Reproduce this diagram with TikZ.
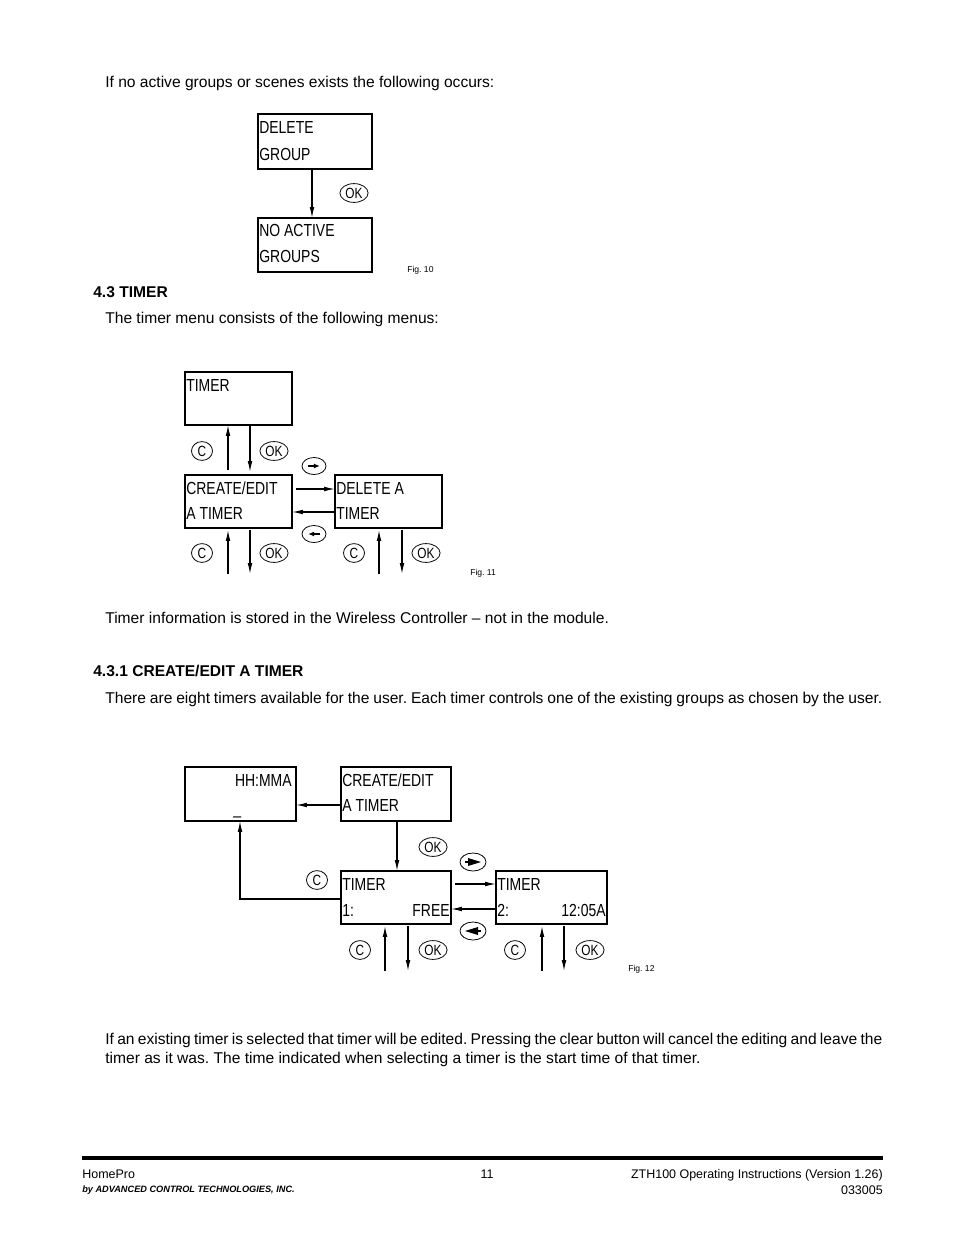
\documentclass[tikz,border=0pt]{standalone}
\usepackage{fontspec}
\setmainfont{Liberation Sans}
\newfontfamily\lcdfont[FakeStretch=0.8]{Liberation Sans}
\usetikzlibrary{shapes.geometric,arrows.meta,calc}
\newdimen\px \px=0.64151pt
\begin{document}
\frenchspacing
\begin{tikzpicture}[x=0.64151pt,y=-0.64151pt,
 lcdbox/.style={draw,line width=0.7pt,inner sep=0,outer sep=0},
 lcd/.style={font=\lcdfont\fontsize{11.2}{12}\selectfont,inner sep=0,anchor=base west},
 lcdr/.style={lcd,anchor=base east},
 btn/.style={draw,ellipse,line width=0.5pt,minimum width=21\px,minimum height=18\px,inner sep=0.9pt,font=\lcdfont\fontsize{9.5}{10}\selectfont},
 conn/.style={line width=0.7pt,-{Latex[length=7pt,width=3pt]}},
 btnarrow/.style={line width=0.8pt,-{Latex[length=4pt,width=3.2pt]}},
 body/.style={font=\fontsize{10}{12}\selectfont,inner sep=0,anchor=base west},
 head/.style={body,font=\fontsize{10}{12}\selectfont\bfseries},
 figlab/.style={font=\fontsize{5.5}{6}\selectfont,inner sep=0,anchor=base west},
 foot/.style={font=\fontsize{8}{9}\selectfont,inner sep=0}]
\useasboundingbox (0,0) rectangle (954,1235);
\fill[white] (0,0) rectangle (954,1235);

% ---------- body text ----------
\node[body] (p1) at (105,87.5) {If no active groups or scenes exists the following occurs:};
\node[head] (h43) at (93,297.5) {4.3 TIMER};
\node[body] (p2) at (105,323.5) {The timer menu consists of the following menus:};
\node[body] (p3) at (105,623.5) {Timer information is stored in the Wireless Controller -- not in the module.};
\node[head] (h431) at (93,676.5) {4.3.1 CREATE/EDIT A TIMER};
\node[body] (p4) at (105,703.5) {\makebox[777\px][s]{There are eight timers available for the user. Each timer controls one of the existing groups as chosen by the user.}};
\node[body] (p5) at (105,1044.5) {\makebox[777\px][s]{If an existing timer is selected that timer will be edited. Pressing the clear button will cancel the editing and leave the}};
\node[body] (p6) at (105,1063.5) {timer as it was. The time indicated when selecting a timer is the start time of that timer.};

% ---------- Fig 10 ----------
\node[lcdbox,minimum width=114\px,minimum height=55\px] (b1) at (315,141.5) {};
\node[lcdbox,minimum width=114\px,minimum height=54\px] (b2) at (315,245) {};
\node[lcd] (b1a) at (259,134) {DELETE};
\node[lcd] (b1b) at (259,161) {GROUP};
\node[lcd] (b2a) at (259,237) {NO ACTIVE};
\node[lcd] (b2b) at (259,263) {GROUPS};
\draw[conn] ($(b1.south)+(-3,0)$) -- ($(b2.north)+(-3,0)$);
\node[btn] (ok10) at (354,193) {OK};
\node[figlab] (f10) at (407,273) {Fig. 10};

% ---------- Fig 11 ----------
\node[lcdbox,minimum width=107\px,minimum height=53\px] (t0) at (238.5,398.5) {};
\node[lcdbox,minimum width=107\px,minimum height=53\px] (t1) at (238.5,501.5) {};
\node[lcdbox,minimum width=107\px,minimum height=53\px] (t2) at (388.5,501.5) {};
\node[lcd] (t0a) at (186,391) {TIMER};
\node[lcd] (t1a) at (186,494) {CREATE/EDIT};
\node[lcd] (t1b) at (186,519) {A TIMER};
\node[lcd] (t2a) at (336,494) {DELETE A};
\node[lcd] (t2b) at (336,519) {TIMER};
\draw[conn] ($(t1.north)+(-10.5,-5)$) -- ($(t0.south)+(-10.5,0)$);
\draw[conn] ($(t0.south)+(11.5,1)$) -- ($(t1.north)+(11.5,-3)$);
\draw[conn] ($(t1.east)+(4,-12.5)$) -- ($(t2.west)+(0,-12.5)$);
\draw[conn] ($(t2.west)+(0,10.5)$) -- ($(t1.east)+(0,10.5)$);
\coordinate (t1u) at (228,574);
\coordinate (t1d) at (250,574);
\coordinate (t2u) at (379,574);
\coordinate (t2d) at (402,574);
\draw[conn] (t1u) -- ($(t1.south)+(-10.5,2)$);
\draw[conn] ($(t1.south)+(11.5,2)$) -- (t1d);
\draw[conn] (t2u) -- ($(t2.south)+(-9.5,2)$);
\draw[conn] ($(t2.south)+(13.5,2)$) -- (t2d);
\node[btn] (c11a) at (202,451) {C};
\node[btn] (ok11a) at (274,451) {OK};
\node[btn,minimum width=24\px,minimum height=17\px] (r11) at (314,466) {};
\draw[btnarrow] ($(r11.center)+(-6,0)$) -- ($(r11.center)+(6,0)$);
\node[btn,minimum width=24\px,minimum height=17\px] (l11) at (314,534) {};
\draw[btnarrow] ($(l11.center)+(6,0)$) -- ($(l11.center)+(-6,0)$);
\node[btn] (c11b) at (202,553) {C};
\node[btn] (ok11b) at (274,553) {OK};
\node[btn] (c11c) at (354,553) {C};
\node[btn] (ok11c) at (426,553) {OK};
\node[figlab] (f11) at (470,575) {Fig. 11};

% ---------- Fig 12 ----------
\node[lcdbox,minimum width=111\px,minimum height=54\px] (h) at (240.5,794) {};
\node[lcdbox,minimum width=110\px,minimum height=54\px] (c) at (396,794) {};
\node[lcdbox,minimum width=110\px,minimum height=53\px] (m1) at (396,897.5) {};
\node[lcdbox,minimum width=111\px,minimum height=53\px] (m2) at (551.5,897.5) {};
\node[lcdr] (ha) at (292,786) {HH:MMA};
\node[lcd] (hb) at (233,814) {\_};
\node[lcd] (ca) at (342,786) {CREATE/EDIT};
\node[lcd] (cb) at (342,811) {A TIMER};
\node[lcd] (m1a) at (342,890) {TIMER};
\node[lcd] (m1b) at (342,916) {1:};
\node[lcdr] (m1c) at (450,916) {FREE};
\node[lcd] (m2a) at (497,890) {TIMER};
\node[lcd] (m2b) at (497,916) {2:};
\node[lcdr] (m2c) at (606,916) {12:05A};
\draw[conn] ($(c.west)+(0,11)$) -- ($(h.east)+(0,11)$);
\draw[conn] ($(c.south)+(1,0)$) -- ($(m1.north)+(1,0)$);
\draw[conn] ($(m1.west)+(0,1.5)$) -| ($(h.south)+(-0.5,0)$);
\draw[conn] ($(m1.east)+(4,-13.5)$) -- ($(m2.west)+(0,-13.5)$);
\draw[conn] ($(m2.west)+(0,11.5)$) -- ($(m1.east)+(0,11.5)$);
\coordinate (m1u) at (385,971);
\coordinate (m1d) at (408,971);
\coordinate (m2u) at (542,971);
\coordinate (m2d) at (564,971);
\draw[conn] (m1u) -- ($(m1.south)+(-11,2)$);
\draw[conn] ($(m1.south)+(12,2)$) -- (m1d);
\draw[conn] (m2u) -- ($(m2.south)+(-9.5,2)$);
\draw[conn] ($(m2.south)+(12.5,2)$) -- (m2d);
\node[btn] (ok12a) at (433,847) {OK};
\node[btn] (c12a) at (317,880) {C};
\node[btn,minimum width=26\px,minimum height=18\px] (r12) at (473,862) {};
\draw[line width=0.8pt] ($(r12.center)+(-8,0)$) -- ($(r12.center)+(0,0)$);
\fill ($(r12.center)+(-5,-4)$) -- ($(r12.center)+(8,0)$) -- ($(r12.center)+(-5,4)$) -- cycle;
\node[btn,minimum width=26\px,minimum height=18\px] (l12) at (473,931) {};
\draw[line width=0.8pt] ($(l12.center)+(8,0)$) -- ($(l12.center)+(0,0)$);
\fill ($(l12.center)+(5,-4)$) -- ($(l12.center)+(-8,0)$) -- ($(l12.center)+(5,4)$) -- cycle;
\node[btn] (c12b) at (360,950) {C};
\node[btn] (ok12b) at (433,950) {OK};
\node[btn] (c12c) at (515,950) {C};
\node[btn] (ok12c) at (590,950) {OK};
\node[figlab] (f12) at (628,971) {Fig. 12};

% ---------- footer ----------
\draw[line width=2.6pt] (82,1158) -- (883,1158);
\node[foot,anchor=base west] (fa) at (82,1178.5) {HomePro};
\node[foot,anchor=base west,font=\fontsize{5.9}{7}\selectfont\bfseries\itshape] (fb) at (82,1192) {by ADVANCED CONTROL TECHNOLOGIES, INC.};
\node[foot,anchor=base] (fc) at (487,1178.5) {11};
\node[foot,anchor=base east] (fd) at (883,1178.5) {ZTH100 Operating Instructions (Version 1.26)};
\node[foot,anchor=base east] (fe) at (883,1194) {033005};
\end{tikzpicture}
\end{document}
